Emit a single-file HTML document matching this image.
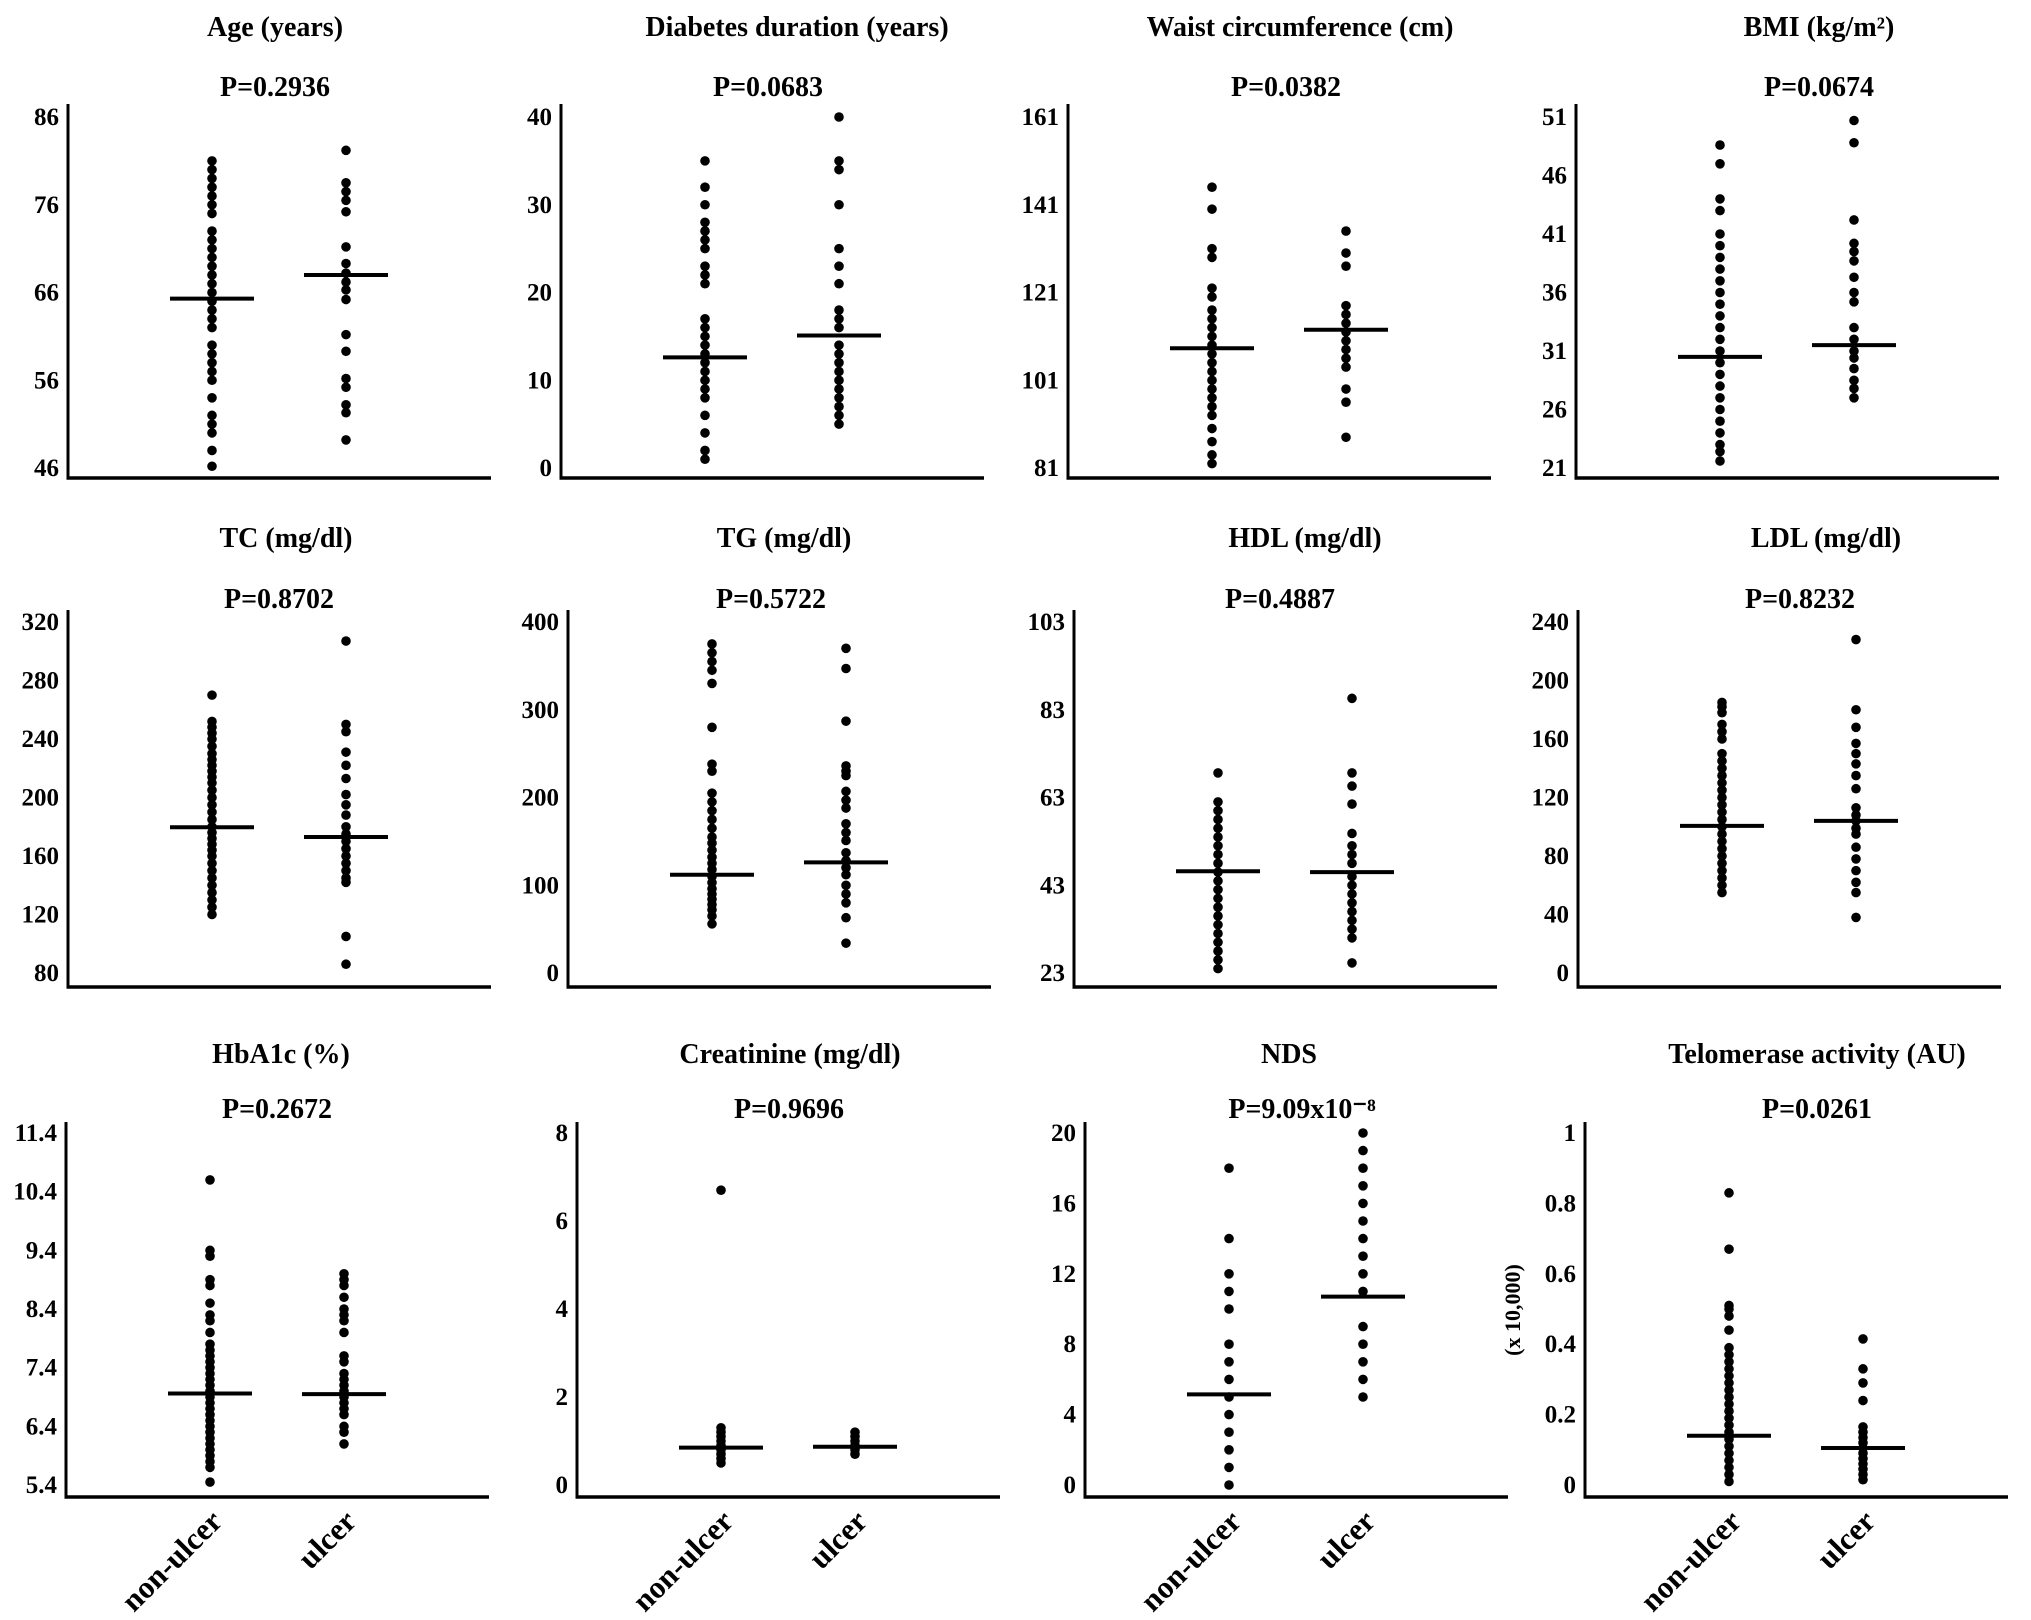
<!DOCTYPE html>
<html><head><meta charset="utf-8"><style>
html,body{margin:0;padding:0;background:#fff;}
svg{display:block;font-family:"Liberation Serif",serif;font-weight:bold;}
</style></head><body>
<svg id="fig" width="2031" height="1620" viewBox="0 0 2031 1620" xmlns="http://www.w3.org/2000/svg"></svg>
<script>
const ageNon=[81,80,79,78,77,76,75,73,72,71,70,69,68,67,66,65,64,63,62,60,59,58,57,56,54,52,51,50,48,46.2];
const ageUlc=[82.2,78.5,77.5,76.5,75.2,71.2,69.3,68.2,67.2,66.3,65.2,61.2,59.3,56.2,55.2,53.2,52.3,49.2];
const ageMean=[65.3,68];
const durNon=[35,32,30,28,27,26,25,23,22,21,17,16,15,14,13,12,11,10,9,8,6,4,2,1];
const durUlc=[40,35,34,30,25,23,21,18,17,16,14,13,12,11,10,9,8,7,6,5];
const durMean=[12.6,15.1];
const waistNon=[145,140,131,129,122,120,117,115,113,111,109,107,105,103,101,99,97,95,93,90,87,84,82];
const waistUlc=[135,130,127,118,116,114,112,110,108,106,104,99,96,88];
const waistMean=[108.3,112.5];
const bmiNon=[48.6,47,44,43,41,40,39,38,37,36,35,34,33,32,31,30,29,28,27,26,25,24,23,22.4,21.6];
const bmiUlc=[50.7,48.8,42.2,40.2,39.5,38.7,37.3,36,35.2,33,32,31,30.4,29.5,28.5,27.8,27];
const bmiMean=[30.5,31.5];
const tcNon=[270,252,248,244,240,235,230,226,222,218,214,210,205,200,195,190,185,180,176,172,168,164,160,155,150,145,140,135,130,125,120];
const tcUlc=[307,250,245,231,222,213,202,195,188,180,175,170,165,160,155,150,145,142,105,86];
const tcMean=[179.7,173];
const tgNon=[375,365,355,345,330,280,238,230,205,195,185,175,165,155,148,140,132,125,118,110,103,96,90,84,78,72,65,56];
const tgUlc=[370,347,287,236,230,225,207,197,188,170,160,151,137,128,120,112,100,90,80,63,34];
const tgMean=[112,126];
const hdlNon=[68.6,62,60,58,56,54,52,50,48,46,44,42,40,38,36,34,32,30,28,26,24];
const hdlUlc=[85.6,68.6,65.6,61.5,54.8,52,50,48,45,43,41,39,37,35,33,31,25.3];
const hdlMean=[46.2,46];
const ldlNon=[185,182,178,170,165,160,150,145,140,135,130,125,120,115,110,105,100,95,90,85,80,75,70,65,60,55];
const ldlUlc=[228,180,168,157,150,143,135,126,113,108,104,99,95,86,78,70,62,55,38];
const ldlMean=[100.6,104];
const hbNon=[10.6,9.4,9.3,8.9,8.8,8.5,8.3,8.2,8.0,7.8,7.7,7.6,7.5,7.4,7.3,7.2,7.1,7.0,6.9,6.8,6.7,6.6,6.5,6.4,6.3,6.2,6.1,6.0,5.9,5.8,5.7,5.45];
const hbUlc=[9.0,8.9,8.8,8.6,8.4,8.3,8.2,8.0,7.6,7.5,7.3,7.2,7.1,7.0,6.9,6.8,6.7,6.6,6.4,6.3,6.1];
const hbMean=[6.96,6.95];
const crNon=[6.7,1.3,1.2,1.1,1.0,0.9,0.8,0.7,0.6,0.5];
const crUlc=[1.2,1.1,1.0,0.9,0.8,0.7];
const crMean=[0.85,0.87];
const ndsNon=[18,14,12,11,10,8,7,6,5,4,3,2,1,0];
const ndsUlc=[20,19,18,17,16,15,14,13,12,11,9,8,7,6,5];
const ndsMean=[5.15,10.7];
const telNon=[0.83,0.67,0.51,0.50,0.48,0.44,0.39,0.37,0.35,0.33,0.31,0.29,0.27,0.25,0.23,0.21,0.19,0.17,0.15,0.13,0.11,0.09,0.07,0.05,0.03,0.01];
const telUlc=[0.415,0.33,0.29,0.24,0.165,0.15,0.135,0.12,0.105,0.09,0.075,0.06,0.045,0.03,0.015];
const telMean=[0.14,0.105];
const ageTicks=[46,56,66,76,86];
const durTicks=[0,10,20,30,40];
const waistTicks=[81,101,121,141,161];
const bmiTicks=[21,26,31,36,41,46,51];
const tcTicks=[80,120,160,200,240,280,320];
const tgTicks=[0,100,200,300,400];
const hdlTicks=[23,43,63,83,103];
const ldlTicks=[0,40,80,120,160,200,240];
const hbTicks=[5.4,6.4,7.4,8.4,9.4,10.4,11.4];
const crTicks=[0,2,4,6,8];
const ndsTicks=[0,4,8,12,16,20];
const telTicks=[0,0.2,0.4,0.6,0.8,1];
const titles=["Age (years)","Diabetes duration (years)","Waist circumference (cm)","BMI (kg/m²)","TC (mg/dl)","TG (mg/dl)","HDL (mg/dl)","LDL (mg/dl)","HbA1c (%)","Creatinine (mg/dl)","NDS","Telomerase activity (AU)"];
const pvals=["P=0.2936","P=0.0683","P=0.0382","P=0.0674","P=0.8702","P=0.5722","P=0.4887","P=0.8232","P=0.2672","P=0.9696","P=9.09x10⁻⁸","P=0.0261"];

const NS="http://www.w3.org/2000/svg";
const svg=document.getElementById('fig');
function mk(tag,attrs,parent){const e=document.createElementNS(NS,tag);for(const k in attrs)e.setAttribute(k,attrs[k]);(parent||svg).appendChild(e);return e;}
const rows=[{top:104,tTop:117,tBot:468,base:478,title:36,p:96},{top:610,tTop:622,tBot:973,base:987,title:547,p:608},{top:1122,tTop:1133,tBot:1485,base:1497,title:1063,p:1118}];
const panels=[
 [ageNon,ageUlc,ageMean,ageTicks,0,68,275,275],
 [durNon,durUlc,durMean,durTicks,0,561,797,768],
 [waistNon,waistUlc,waistMean,waistTicks,0,1068,1300,1286],
 [bmiNon,bmiUlc,bmiMean,bmiTicks,0,1576,1819,1819],
 [tcNon,tcUlc,tcMean,tcTicks,1,68,286,279],
 [tgNon,tgUlc,tgMean,tgTicks,1,568,784,771],
 [hdlNon,hdlUlc,hdlMean,hdlTicks,1,1074,1305,1280],
 [ldlNon,ldlUlc,ldlMean,ldlTicks,1,1578,1826,1800],
 [hbNon,hbUlc,hbMean,hbTicks,2,66,281,277],
 [crNon,crUlc,crMean,crTicks,2,577,790,789],
 [ndsNon,ndsUlc,ndsMean,ndsTicks,2,1085,1289,1302],
 [telNon,telUlc,telMean,telTicks,2,1585,1817,1817]
];
panels.forEach((p,i)=>{
 const [non,ulc,mean,ticks,ri,ax,tx,px]=p;
 const r=rows[ri];
 const g=mk('g',{});
 
 
 const lo=ticks[0],hi=ticks[ticks.length-1];
 const y=v=>r.tBot-(v-lo)/(hi-lo)*(r.tBot-r.tTop);
 const t=mk('text',{x:tx,y:r.title,'text-anchor':'middle','font-size':28},g);t.textContent=titles[i];
 
 
 const pv=mk('text',{x:px,y:r.p,'text-anchor':'middle','font-size':28},g);pv.textContent=pvals[i];
 
 
 const ya=mk('line',{x1:ax,y1:r.top,x2:ax,y2:r.base,stroke:'#000','stroke-width':3},g);
 
 
 const xa=mk('line',{x1:ax-1.5,y1:r.base,x2:ax+423,y2:r.base,stroke:'#000','stroke-width':3.5},g);
 
 
 ticks.forEach(tv=>{
  const tl=mk('text',{x:ax-9,y:y(tv)+8,'text-anchor':'end','font-size':25},g);tl.textContent=String(tv);
  
  
 });
 [[non,ax+144],[ulc,ax+278]].forEach((s,k)=>{
  s[0].forEach(v=>{
   const c=mk('circle',{cx:s[1],cy:y(v),r:4.8,fill:'#000'},g);
   
   
  });
  const m=mk('line',{x1:s[1]-42,y1:y(mean[k]),x2:s[1]+42,y2:y(mean[k]),stroke:'#000','stroke-width':4},g);
  
  
 });
 if(ri===2){
  [['non-ulcer',ax+144],['ulcer',ax+278]].forEach(([lab,cx])=>{
   const lx=cx+14, ly=r.base+26;
   const tt=mk('text',{x:lx,y:ly,'text-anchor':'end','font-size':31,transform:'rotate(-45 '+lx+' '+ly+')'},g);
   tt.textContent=lab;
   
   
  });
 }
 if(i===11){
  const yl=mk('text',{x:1520,y:1310,'text-anchor':'middle','font-size':22,transform:'rotate(-90 1520 1310)'},g);
  yl.textContent='(x 10,000)';
  
  
 }
});
</script>
</body></html>
